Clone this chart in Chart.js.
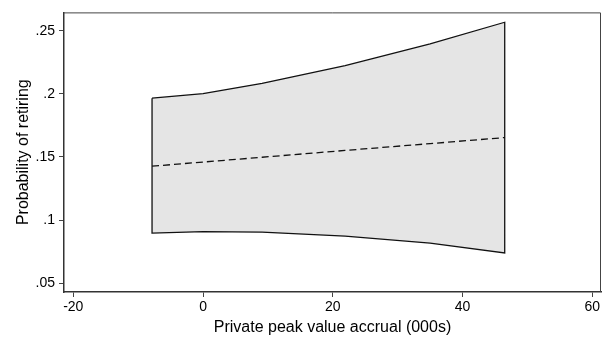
<!DOCTYPE html>
<html>
<head>
<meta charset="utf-8">
<script src="https://cdn.jsdelivr.net/npm/chart.js@4.4.1/dist/chart.umd.min.js"></script>
<style>
  html, body { margin: 0; padding: 0; background: #fff; }
  #wrap { width: 611px; height: 341px; }
</style>
</head>
<body>
<div id="wrap"><canvas id="chart" width="611" height="341"></canvas></div>
<script>
// values
let accrual = [-7.86, 0, 9.1, 21.9, 35, 46.5];
let upperCI = [0.1966, 0.2002, 0.2084, 0.2224, 0.2396, 0.2568];
let lowerCI = [0.0896, 0.0908, 0.0904, 0.0873, 0.0818, 0.0740];
let fitted  = [0.1427, 0.1460, 0.1498, 0.1552, 0.1606, 0.1654];

let xTicks = [-20, 0, 20, 40, 60];
let yTicks = [0.05, 0.1, 0.15, 0.2, 0.25];
let yTickLabels = [".05", ".1", ".15", ".2", ".25"];

// closed outline of the band: along upper, then back along lower
let band = [];
for (let i = 0; i < accrual.length; i++) band.push({ x: accrual[i], y: upperCI[i] });
for (let i = accrual.length - 1; i >= 0; i--) band.push({ x: accrual[i], y: lowerCI[i] });
band.push({ x: accrual[0], y: upperCI[0] });

let line = accrual.map((v, i) => ({ x: v, y: fitted[i] }));

// frame around the plot region
const frame = {
  id: "frame",
  afterDraw(c) {
    let a = c.chartArea, ctx = c.ctx;
    ctx.save();
    ctx.strokeStyle = "#444";
    ctx.lineWidth = 1;
    ctx.beginPath();
    ctx.moveTo(a.left, a.top + 0.5);
    ctx.lineTo(a.right - 0.5, a.top + 0.5);
    ctx.lineTo(a.right - 0.5, a.bottom);
    ctx.stroke();
    ctx.restore();
  }
};

Chart.defaults.font.family = "'Liberation Sans', Arial, sans-serif";
Chart.defaults.color = "#000";

let ctx = document.getElementById("chart").getContext("2d");
let chart = new Chart(ctx, {
  type: "line",
  data: {
    datasets: [
      {
        data: band,
        order: 2,
        fill: "shape",
        backgroundColor: "#e5e5e5",
        borderColor: "#111",
        borderWidth: 1.3,
        pointRadius: 0,
        tension: 0
      },
      {
        data: line,
        order: 1,
        fill: false,
        borderColor: "#111",
        borderWidth: 1.3,
        borderDash: [7, 4],
        pointRadius: 0,
        tension: 0
      }
    ]
  },
  plugins: [frame],
  options: {
    responsive: false,
    animation: false,
    layout: { padding: { top: 8, right: 10, left: 0, bottom: 0 } },
    plugins: { legend: { display: false }, tooltip: { enabled: false } },
    scales: {
      x: {
        type: "linear",
        min: -21.43,
        max: 61.34,
        afterBuildTicks: s => { s.ticks = xTicks.map(v => ({ value: v })); },
        afterFit: s => { s.height = 49; },
        ticks: { font: { size: 14 }, padding: 2, maxRotation: 0, callback: v => String(v) },
        grid: { drawOnChartArea: false, drawTicks: true, tickLength: 5, color: "#444" },
        border: { display: true, color: "#333", width: 1.5 },
        title: { display: true, text: "Private peak value accrual (000s)", font: { size: 16 }, padding: { top: 0 } }
      },
      y: {
        type: "linear",
        min: 0.043,
        max: 0.2646,
        afterBuildTicks: s => { s.ticks = yTicks.map(v => ({ value: v })); },
        afterFit: s => { s.width = 64; },
        ticks: { font: { size: 14 }, padding: 4, callback: (v) => yTickLabels[yTicks.indexOf(v)] },
        grid: { drawOnChartArea: false, drawTicks: true, tickLength: 5, color: "#444" },
        border: { display: true, color: "#333", width: 1.5 },
        title: { display: true, text: "Probability of retiring", font: { size: 16 }, padding: { top: 14, bottom: 0 } }
      }
    }
  }
});
</script>
</body>
</html>
